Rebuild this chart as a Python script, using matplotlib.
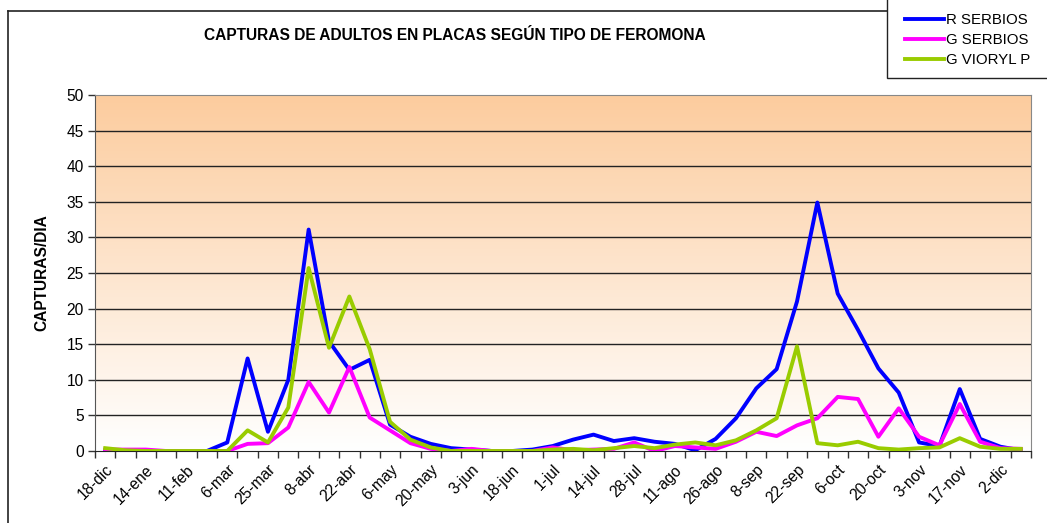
import matplotlib
matplotlib.use('Agg')
import matplotlib.pyplot as plt
import numpy as np
from matplotlib.patches import Rectangle
from matplotlib.lines import Line2D

plt.rcParams['font.family'] = ['Liberation Sans', 'DejaVu Sans']

# category labels (only every other sample date is labelled on the axis)
labels = ['18-dic', '14-ene', '11-feb', '6-mar', '25-mar', '8-abr', '22-abr', '6-may',
          '20-may', '3-jun', '18-jun', '1-jul', '14-jul', '28-jul', '11-ago', '26-ago',
          '8-sep', '22-sep', '6-oct', '20-oct', '3-nov', '17-nov', '2-dic']

r_serbios = [0.0, 0.0, 0.0, 0.0, 0.0, 0.0, 1.2, 13.0, 2.7, 10.0,
             31.1, 15.4, 11.4, 12.8, 3.7, 2.0, 1.0, 0.4, 0.2, 0.0,
             0.0, 0.2, 0.7, 1.6, 2.3, 1.4, 1.8, 1.3, 1.0, 0.1,
             1.7, 4.6, 8.8, 11.5, 21.0, 34.9, 22.1, 17.0, 11.6, 8.2,
             1.2, 0.7, 8.7, 1.7, 0.6, 0.1]
g_serbios = [0.2, 0.2, 0.2, 0.0, 0.0, 0.0, 0.0, 1.0, 1.1, 3.3,
             9.7, 5.4, 11.8, 4.7, 2.9, 1.1, 0.3, 0.0, 0.3, 0.0,
             0.0, 0.0, 0.5, 0.1, 0.2, 0.3, 1.2, 0.0, 0.7, 0.5,
             0.3, 1.3, 2.7, 2.1, 3.6, 4.6, 7.6, 7.3, 2.0, 6.0,
             2.0, 0.8, 6.6, 1.3, 0.4, 0.3]
g_vioryl = [0.4, 0.1, 0.0, 0.0, 0.0, 0.0, 0.0, 2.9, 1.2, 6.1,
            25.7, 14.5, 21.7, 14.3, 4.1, 1.6, 0.5, 0.0, 0.0, 0.0,
            0.0, 0.0, 0.2, 0.3, 0.1, 0.4, 0.7, 0.4, 0.9, 1.2,
            0.8, 1.5, 2.9, 4.6, 14.7, 1.1, 0.8, 1.3, 0.4, 0.2,
            0.4, 0.5, 1.8, 0.6, 0.3, 0.3]

W, H = 1047, 523
fig = plt.figure(figsize=(W / 100, H / 100), dpi=100)
ax = fig.add_axes([95 / W, 1 - 451 / H, (1031 - 95) / W, (451 - 95) / H])

n = len(r_serbios)
x = np.arange(n)
ax.set_xlim(-0.5, n - 0.5)
ax.set_ylim(0, 50)

# peach to white vertical gradient
grad = np.linspace(0, 1, 256).reshape(-1, 1)
top = np.array([252, 204, 158]) / 255.0
bottom = np.array([255, 255, 255]) / 255.0
img = bottom + (top - bottom) * grad[:, :, None] * np.ones((1, 2, 1))
ax.imshow(img, extent=[-0.5, n - 0.5, 0, 50], origin='lower', aspect='auto', zorder=0)

for yv in range(5, 50, 5):
    ax.axhline(yv, color='#222222', linewidth=1.0, zorder=1)

ax.plot(x, r_serbios, color='#0000FF', linewidth=2.8, zorder=3, label='R SERBIOS')
ax.plot(x, g_serbios, color='#FF00FF', linewidth=2.8, zorder=3, label='G SERBIOS')
ax.plot(x, g_vioryl, color='#99CC00', linewidth=2.8, zorder=4, label='G VIORYL P')

ax.set_yticks(range(0, 51, 5))
ax.tick_params(axis='y', direction='out', length=5, width=1, labelsize=11.2, pad=3, color='#333333')
ax.set_xticks(np.arange(-0.5, n, 1.0))
ax.set_xticklabels([])
ax.tick_params(axis='x', which='major', direction='out', length=5, width=1, color='#333333')
ax.set_xticks(np.arange(0, n, 2), minor=True)
ax.set_xticklabels(labels, minor=True, rotation=45, ha='right', va='top',
                   rotation_mode='anchor', fontsize=11.2)
ax.tick_params(axis='x', which='minor', length=0, pad=8)

for side in ['top', 'right']:
    ax.spines[side].set_color('#888888')
ax.spines['left'].set_color('#555555')
ax.spines['bottom'].set_color('#222222')

fig.text(455 / W, 1 - 35 / H, 'CAPTURAS DE ADULTOS EN PLACAS SEGÚN TIPO DE FEROMONA',
         ha='center', va='center', fontsize=11.2, fontweight='bold')
fig.text(42 / W, 1 - 273 / H, 'CAPTURAS/DIA', rotation=90, ha='center', va='center',
         fontsize=11.2, fontweight='bold')

# chart border (left and top edges visible)
fig.add_artist(Line2D([8 / W, 8 / W], [0, 1 - 11 / H], color='#222222', linewidth=1.2))
fig.add_artist(Line2D([8 / W, 887 / W], [1 - 11 / H, 1 - 11 / H], color='#222222', linewidth=1.2))

# legend box
fig.add_artist(Rectangle((887 / W, 1 - 78 / H), 0.2, 0.3, facecolor='white',
                         edgecolor='#222222', linewidth=1.0, zorder=5))
handles, names = ax.get_legend_handles_labels()
fig.legend(handles, names, loc='upper left', bbox_to_anchor=(905 / W, 1 - 13 / H),
           frameon=False, fontsize=10.8, handlelength=2.6, handletextpad=0.15,
           labelspacing=0.4, borderaxespad=0, borderpad=0)

fig.savefig('out.png', dpi=100)
